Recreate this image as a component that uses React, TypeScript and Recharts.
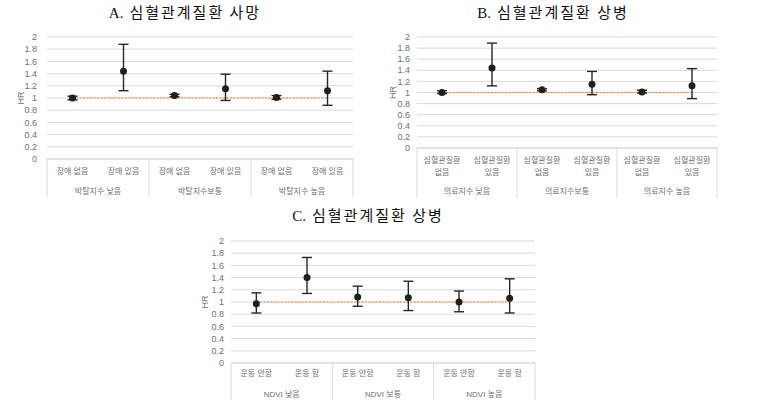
import React from "react";
import {
  ComposedChart,
  Line,
  Scatter,
  ErrorBar,
  XAxis,
  YAxis,
  CartesianGrid,
} from "recharts";

// Y axis tick labels shared by all three panels
const HR_TICKS = [0, 0.2, 0.4, 0.6, 0.8, 1, 1.2, 1.4, 1.6, 1.8, 2];

// A. 심혈관계질환 사망
const groupsA = ["박탈지수 낮음", "박탈지수보통", "박탈지수 높음"];
const catsA = ["장애 없음", "장애 있음"];
const hrA = [1.0, 1.44, 1.04, 1.15, 1.01, 1.12];
const lowA = [0.97, 1.12, 1.02, 0.96, 0.98, 0.88];
const highA = [1.03, 1.88, 1.06, 1.39, 1.04, 1.44];

// B. 심혈관계질환 상병 (의료지수)
const groupsB = ["의료지수 낮음", "의료지수보통", "의료지수 높음"];
const catsB = ["심혈관질환\n없음", "심혈관질환\n있음"];
const hrB = [1.0, 1.44, 1.05, 1.15, 1.01, 1.12];
const lowB = [0.98, 1.12, 1.03, 0.96, 0.99, 0.89];
const highB = [1.03, 1.89, 1.07, 1.38, 1.04, 1.43];

// C. 심혈관계질환 상병 (NDVI)
const groupsC = ["NDVI 낮음", "NDVI 보통", "NDVI 높음"];
const catsC = ["운동 안함", "운동 함"];
const hrC = [0.97, 1.4, 1.08, 1.07, 1.0, 1.06];
const lowC = [0.82, 1.14, 0.93, 0.86, 0.84, 0.82];
const highC = [1.15, 1.73, 1.26, 1.34, 1.18, 1.38];

const FONT = "'Liberation Sans', 'Noto Sans CJK KR', sans-serif";
const TICK_COLOR = "#707070";
const GRID = "#d9d9d9";

type TickCfg = { catDy: number[]; groupDy: number; sepLen: number };

function makeRows(hr: number[], low: number[], high: number[]) {
  return hr.map((v, i) => ({
    x: i + 0.5,
    hr: v,
    err: [v - low[i], high[i] - v],
    ref: 1,
  }));
}

// one custom tick draws separators (even integers), group names (odd integers)
// and category names (half values)
function makeTick(cats: string[], groups: string[], cfg: TickCfg) {
  return (props: any) => {
    const { x, y, payload } = props;
    const v: number = payload.value;
    if (Number.isInteger(v) && v % 2 === 0) {
      return <line x1={x} y1={y} x2={x} y2={y + cfg.sepLen} stroke={GRID} />;
    }
    if (Number.isInteger(v)) {
      const g = groups[(v - 1) / 2];
      return (
        <text x={x} y={y + cfg.groupDy} textAnchor="middle" fontSize={8} fill={TICK_COLOR} fontFamily={FONT}>
          {g}
        </text>
      );
    }
    const lines = cats[Math.floor(v) % 2].split("\n");
    return (
      <text textAnchor="middle" fontSize={8} fill={TICK_COLOR} fontFamily={FONT}>
        {lines.map((l, i) => (
          <tspan key={i} x={x} y={y + cfg.catDy[i]}>
            {l}
          </tspan>
        ))}
      </text>
    );
  };
}

type PanelProps = {
  left: number;
  top: number;
  width: number;
  height: number;
  margin: { top: number; right: number; left: number; bottom: number };
  yWidth: number;
  yTickMargin: number;
  xHeight: number;
  hr: number[];
  low: number[];
  high: number[];
  cats: string[];
  groups: string[];
  tick: TickCfg;
};

function Panel(p: PanelProps) {
  const rows = makeRows(p.hr, p.low, p.high);
  const xTicks = Array.from({ length: p.hr.length * 2 + 1 }, (_, i) => i / 2);
  return (
    <div style={{ position: "absolute", left: p.left, top: p.top }}>
      <ComposedChart width={p.width} height={p.height} data={rows} margin={p.margin}>
        <CartesianGrid vertical={false} stroke={GRID} />
        <XAxis
          dataKey="x"
          type="number"
          domain={[0, p.hr.length]}
          ticks={xTicks}
          interval={0}
          tickSize={0}
          tickMargin={0}
          tickLine={false}
          axisLine={{ stroke: GRID }}
          height={p.xHeight}
          tick={makeTick(p.cats, p.groups, p.tick)}
        />
        <YAxis
          domain={[0, 2]}
          ticks={HR_TICKS}
          interval={0}
          width={p.yWidth}
          axisLine={false}
          tickLine={false}
          tickMargin={p.yTickMargin}
          tick={{ fontSize: 9, fill: TICK_COLOR, fontFamily: FONT }}
          label={{
            value: "HR",
            angle: -90,
            position: "insideLeft",
            offset: 4,
            style: { textAnchor: "middle", fontSize: 9, fill: TICK_COLOR, fontFamily: FONT },
          }}
        />
        <Line
          dataKey="ref"
          stroke="#ED7D31"
          strokeDasharray="2 1.5"
          strokeWidth={1}
          dot={false}
          isAnimationActive={false}
        />
        <Scatter
          dataKey="hr"
          isAnimationActive={false}
          shape={(s: any) => <circle cx={s.cx} cy={s.cy} r={3.5} fill="#1f1f1f" />}
        >
          <ErrorBar dataKey="err" direction="y" width={5} stroke="#262626" strokeWidth={1.4} />
        </Scatter>
      </ComposedChart>
    </div>
  );
}

function Title({ x, y, letter, text }: { x: number; y: number; letter: string; text: string }) {
  return (
    <div
      style={{
        position: "absolute",
        left: x - 130,
        top: y - 10,
        width: 260,
        textAlign: "center",
        fontSize: 15,
        lineHeight: "20px",
        color: "#111",
        whiteSpace: "nowrap",
      }}
    >
      <span style={{ fontFamily: "'Liberation Serif', serif", marginRight: 6 }}>{letter}</span>
      <span style={{ fontFamily: "'Noto Sans CJK KR', sans-serif", letterSpacing: 2 }}>{text}</span>
    </div>
  );
}

export default function App() {
  return (
    <div style={{ position: "absolute", left: 0, top: 0, width: 784, height: 412, background: "#fff" }}>
      <Title x={185} y={12} letter="A." text="심혈관계질환 사망" />
      <Title x={553} y={12} letter="B." text="심혈관계질환 상병" />
      <Title x={368} y={215} letter="C." text="심혈관계질환 상병" />
      <Panel
        left={0}
        top={25}
        width={370}
        height={180}
        margin={{ top: 12, right: 17, left: 17, bottom: 2 }}
        yWidth={30}
        yTickMargin={4}
        xHeight={44}
        hr={hrA}
        low={lowA}
        high={highA}
        cats={catsA}
        groups={groupsA}
        tick={{ catDy: [15], groupDy: 35, sepLen: 38 }}
      />
      <Panel
        left={385}
        top={25}
        width={350}
        height={175}
        margin={{ top: 12, right: 18, left: 4, bottom: 2 }}
        yWidth={28}
        yTickMargin={1}
        xHeight={50}
        hr={hrB}
        low={lowB}
        high={highB}
        cats={catsB}
        groups={groupsB}
        tick={{ catDy: [15, 27], groupDy: 46, sepLen: 50 }}
      />
      <Panel
        left={190}
        top={229}
        width={362}
        height={180}
        margin={{ top: 12, right: 17, left: 11, bottom: 2 }}
        yWidth={30}
        yTickMargin={1}
        xHeight={44}
        hr={hrC}
        low={lowC}
        high={highC}
        cats={catsC}
        groups={groupsC}
        tick={{ catDy: [13], groupDy: 34, sepLen: 37 }}
      />
    </div>
  );
}
